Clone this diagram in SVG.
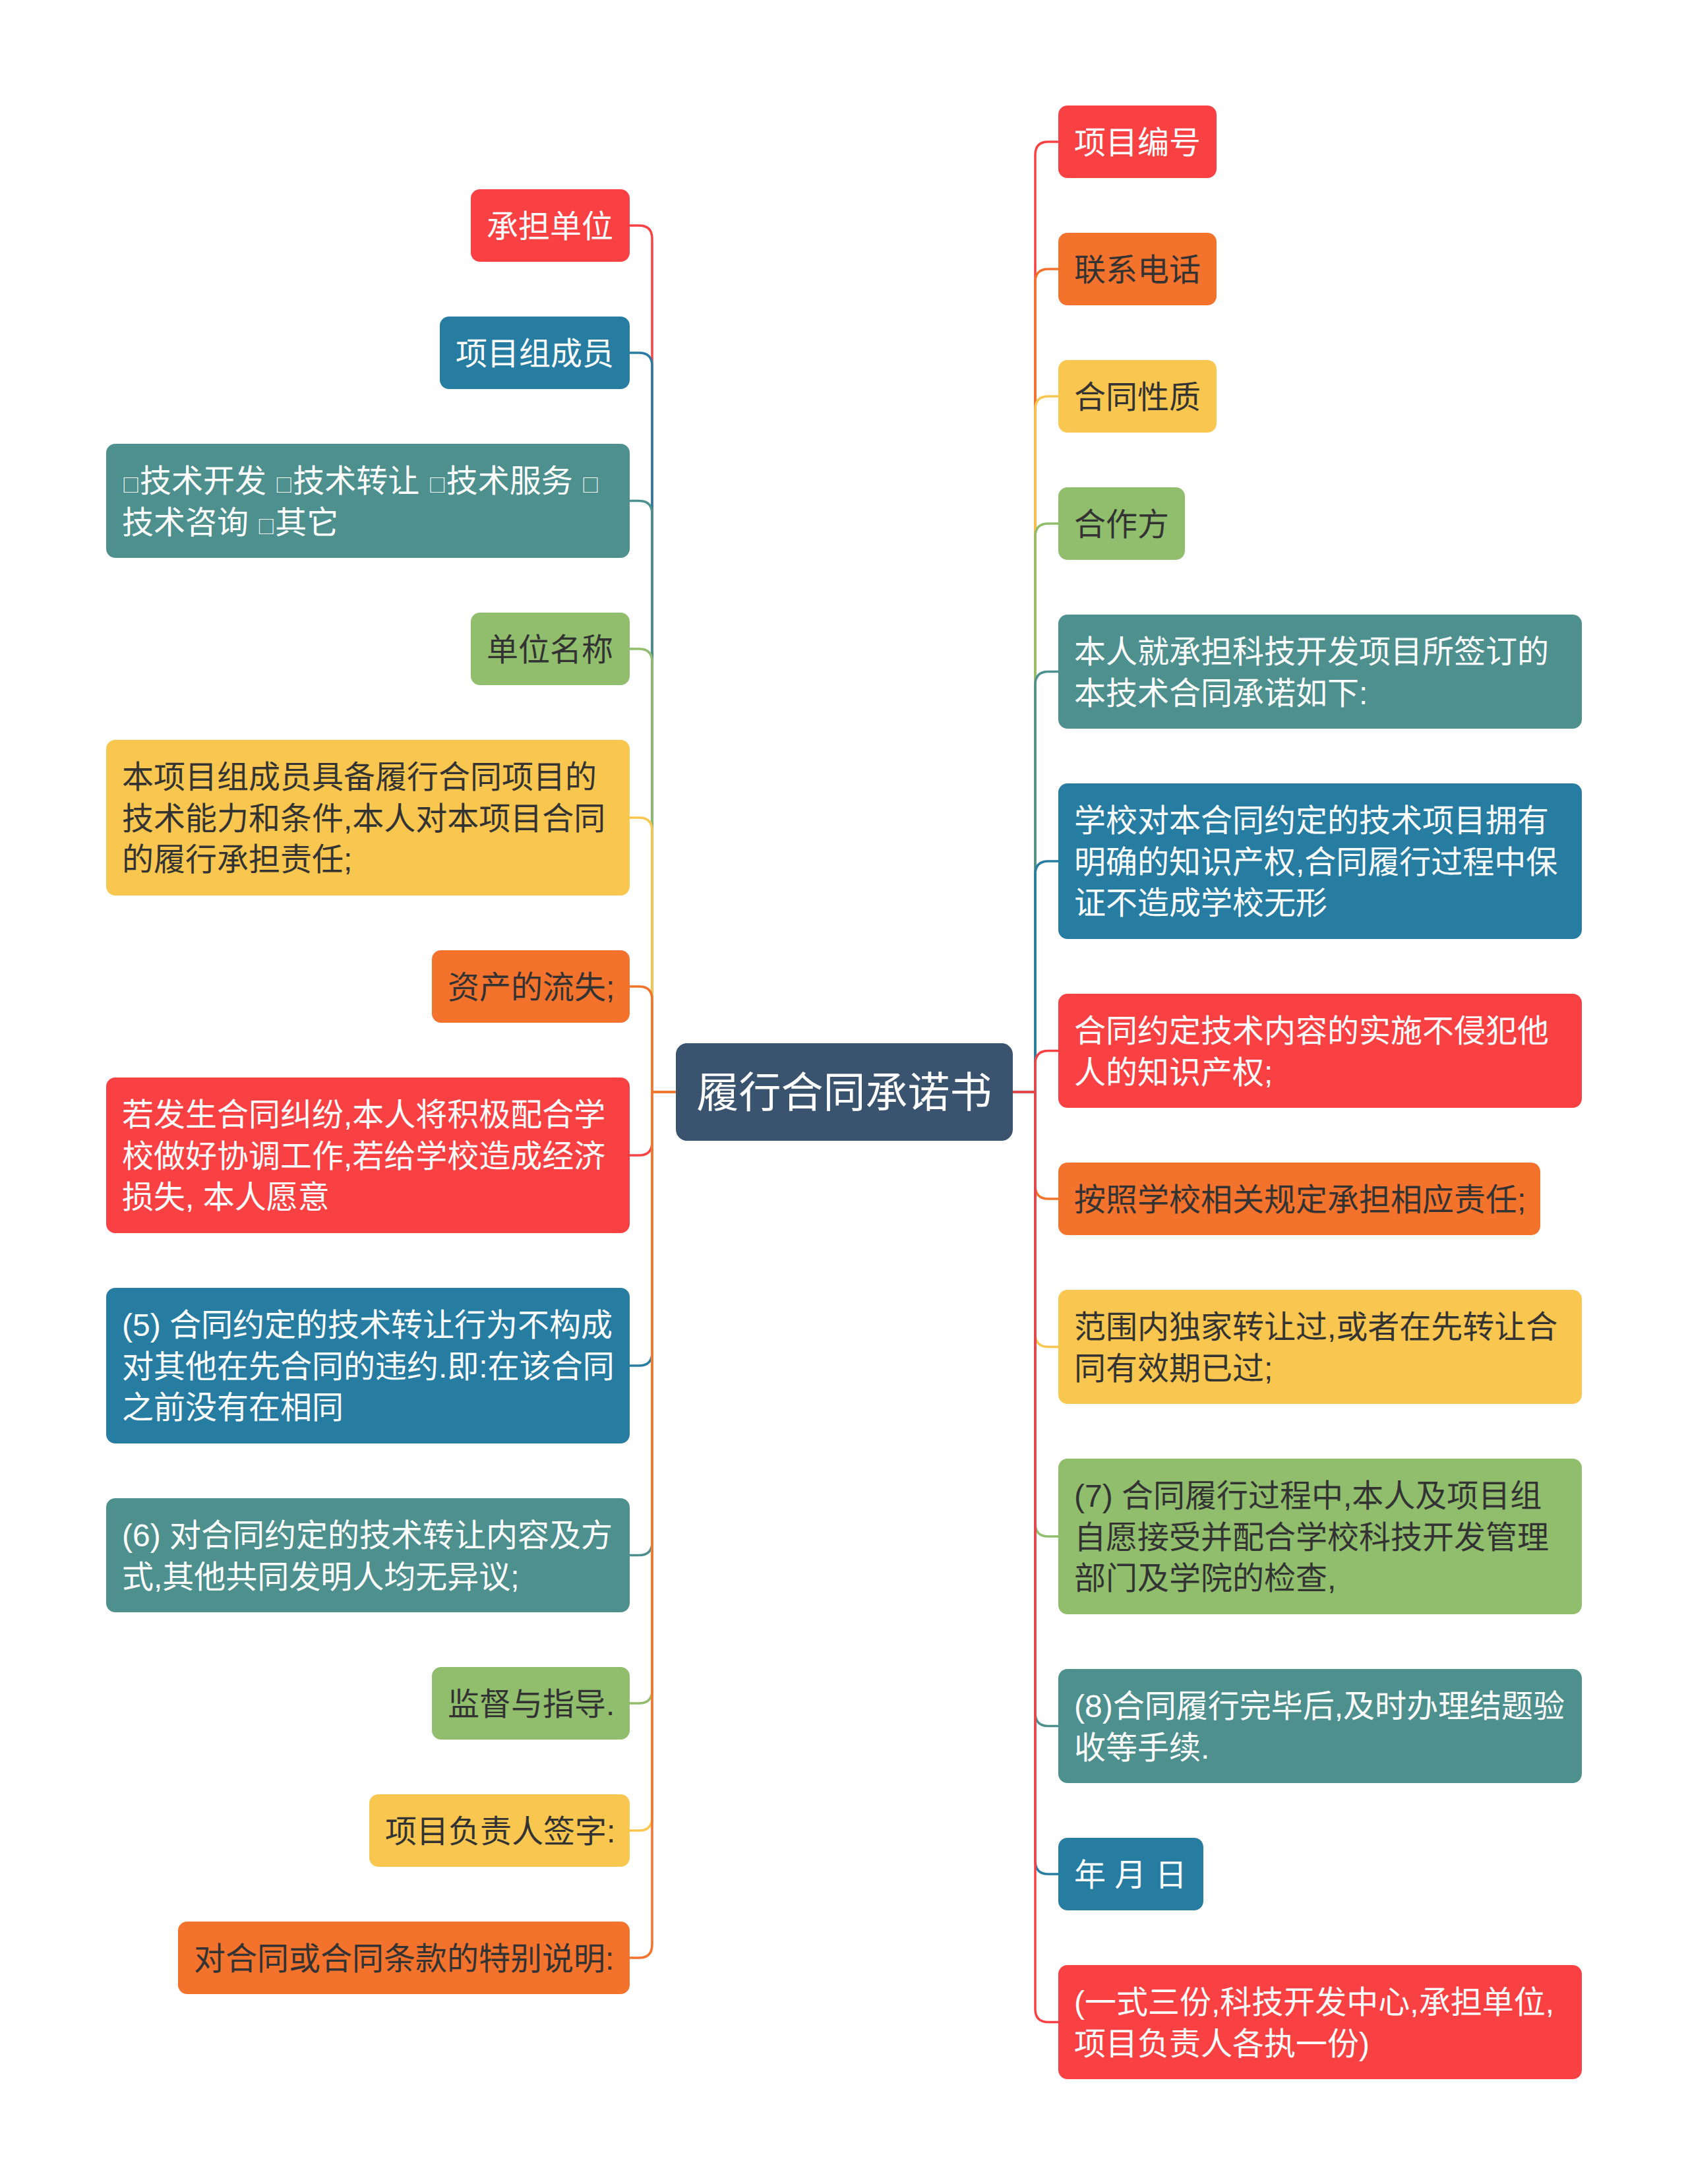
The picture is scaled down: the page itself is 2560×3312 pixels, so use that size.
<svg xmlns="http://www.w3.org/2000/svg" width="2560" height="3312" viewBox="0 0 2560 3312">
<style>
.n text{font-family:"Liberation Sans","Noto Sans CJK SC",sans-serif;font-size:48px}
.sq{font-family:"Noto Sans CJK SC",sans-serif;font-size:27px}
.w{fill:#ffffff}
.d{fill:#333333}
.red{fill:#F94144}
.org{fill:#F3722C}
.yel{fill:#F9C74F}
.grn{fill:#90BE6D}
.tea{fill:#4D908E}
.blu{fill:#277DA1}
#links path{fill:none;stroke-width:3.5;stroke-linecap:round}
.sred{stroke:#F94144}.sorg{stroke:#F3722C}.syel{stroke:#F9C74F}.sgrn{stroke:#90BE6D}.stea{stroke:#4D908E}.sblu{stroke:#277DA1}
</style>
<rect width="2560" height="3312" fill="#ffffff"/>
<g id="links">
<path class="sred" d="M1025,1656 H989 V362 Q989,342 969,342 H955"/>
<path class="sblu" d="M1025,1656 H989 V555 Q989,535 969,535 H955"/>
<path class="stea" d="M1025,1656 H989 V779.5 Q989,759.5 969,759.5 H955"/>
<path class="sgrn" d="M1025,1656 H989 V1004 Q989,984 969,984 H955"/>
<path class="syel" d="M1025,1656 H989 V1260 Q989,1240 969,1240 H955"/>
<path class="sorg" d="M1025,1656 H989 V1516 Q989,1496 969,1496 H955"/>
<path class="sred" d="M1025,1656 H989 V1732 Q989,1752 969,1752 H955"/>
<path class="sblu" d="M1025,1656 H989 V2051 Q989,2071 969,2071 H955"/>
<path class="stea" d="M1025,1656 H989 V2338.5 Q989,2358.5 969,2358.5 H955"/>
<path class="sgrn" d="M1025,1656 H989 V2563 Q989,2583 969,2583 H955"/>
<path class="syel" d="M1025,1656 H989 V2756 Q989,2776 969,2776 H955"/>
<path class="sorg" d="M1025,1656 H989 V2949 Q989,2969 969,2969 H955"/>
<path class="sred" d="M1536,1656 H1570 V235 Q1570,215 1590,215 H1605"/>
<path class="sorg" d="M1536,1656 H1570 V428 Q1570,408 1590,408 H1605"/>
<path class="syel" d="M1536,1656 H1570 V621 Q1570,601 1590,601 H1605"/>
<path class="sgrn" d="M1536,1656 H1570 V814 Q1570,794 1590,794 H1605"/>
<path class="stea" d="M1536,1656 H1570 V1038.5 Q1570,1018.5 1590,1018.5 H1605"/>
<path class="sblu" d="M1536,1656 H1570 V1326 Q1570,1306 1590,1306 H1605"/>
<path class="sred" d="M1536,1656 H1570 V1613.5 Q1570,1593.5 1590,1593.5 H1605"/>
<path class="sorg" d="M1536,1656 H1570 V1798 Q1570,1818 1590,1818 H1605"/>
<path class="syel" d="M1536,1656 H1570 V2022.5 Q1570,2042.5 1590,2042.5 H1605"/>
<path class="sgrn" d="M1536,1656 H1570 V2310 Q1570,2330 1590,2330 H1605"/>
<path class="stea" d="M1536,1656 H1570 V2597.5 Q1570,2617.5 1590,2617.5 H1605"/>
<path class="sblu" d="M1536,1656 H1570 V2822 Q1570,2842 1590,2842 H1605"/>
<path class="sred" d="M1536,1656 H1570 V3046.5 Q1570,3066.5 1590,3066.5 H1605"/>
</g>
<g id="root" class="n">
<rect x="1025" y="1582" width="511" height="148" rx="17" fill="#3A5470"/>
<text x="1280.5" y="1679" text-anchor="middle" class="w" style="font-size:64px">履行合同承诺书</text>
</g>
<g id="L1" class="n"><rect class="red" x="714" y="287" width="241" height="110" rx="14"/><text class="w" x="738" y="360">承担单位</text></g>
<g id="L2" class="n"><rect class="blu" x="667" y="480" width="288" height="110" rx="14"/><text class="w" x="691" y="553">项目组成员</text></g>
<g id="L3" class="n"><rect class="tea" x="161" y="673" width="794" height="173" rx="14"/><text class="w" x="185" y="746"><tspan class="sq">□</tspan>技术开发 <tspan class="sq">□</tspan>技术转让 <tspan class="sq">□</tspan>技术服务 <tspan class="sq">□</tspan><tspan x="185" dy="62.5">技术咨询 </tspan><tspan class="sq">□</tspan>其它</text></g>
<g id="L4" class="n"><rect class="grn" x="714" y="929" width="241" height="110" rx="14"/><text class="d" x="738" y="1002">单位名称</text></g>
<g id="L5" class="n"><rect class="yel" x="161" y="1122" width="794" height="236" rx="14"/><text class="d" x="185" y="1195">本项目组成员具备履行合同项目的<tspan x="185" dy="62.5">技术能力和条件,本人对本项目合同</tspan><tspan x="185" dy="62.5">的履行承担责任;</tspan></text></g>
<g id="L6" class="n"><rect class="org" x="655" y="1441" width="300" height="110" rx="14"/><text class="d" x="679" y="1514">资产的流失;</text></g>
<g id="L7" class="n"><rect class="red" x="161" y="1634" width="794" height="236" rx="14"/><text class="w" x="185" y="1707">若发生合同纠纷,本人将积极配合学<tspan x="185" dy="62.5">校做好协调工作,若给学校造成经济</tspan><tspan x="185" dy="62.5">损失, 本人愿意</tspan></text></g>
<g id="L8" class="n"><rect class="blu" x="161" y="1953" width="794" height="236" rx="14"/><text class="w" x="185" y="2026">(5) 合同约定的技术转让行为不构成<tspan x="185" dy="62.5">对其他在先合同的违约.即:在该合同</tspan><tspan x="185" dy="62.5">之前没有在相同</tspan></text></g>
<g id="L9" class="n"><rect class="tea" x="161" y="2272" width="794" height="173" rx="14"/><text class="w" x="185" y="2345">(6) 对合同约定的技术转让内容及方<tspan x="185" dy="62.5">式,其他共同发明人均无异议;</tspan></text></g>
<g id="L10" class="n"><rect class="grn" x="655" y="2528" width="300" height="110" rx="14"/><text class="d" x="679" y="2601">监督与指导.</text></g>
<g id="L11" class="n"><rect class="yel" x="560" y="2721" width="395" height="110" rx="14"/><text class="d" x="584" y="2794">项目负责人签字:</text></g>
<g id="L12" class="n"><rect class="org" x="270" y="2914" width="685" height="110" rx="14"/><text class="d" x="294" y="2987">对合同或合同条款的特别说明:</text></g>
<g id="R1" class="n"><rect class="red" x="1605" y="160" width="240" height="110" rx="14"/><text class="w" x="1629" y="233">项目编号</text></g>
<g id="R2" class="n"><rect class="org" x="1605" y="353" width="240" height="110" rx="14"/><text class="d" x="1629" y="426">联系电话</text></g>
<g id="R3" class="n"><rect class="yel" x="1605" y="546" width="240" height="110" rx="14"/><text class="d" x="1629" y="619">合同性质</text></g>
<g id="R4" class="n"><rect class="grn" x="1605" y="739" width="192" height="110" rx="14"/><text class="d" x="1629" y="812">合作方</text></g>
<g id="R5" class="n"><rect class="tea" x="1605" y="932" width="794" height="173" rx="14"/><text class="w" x="1629" y="1005">本人就承担科技开发项目所签订的<tspan x="1629" dy="62.5">本技术合同承诺如下:</tspan></text></g>
<g id="R6" class="n"><rect class="blu" x="1605" y="1188" width="794" height="236" rx="14"/><text class="w" x="1629" y="1261">学校对本合同约定的技术项目拥有<tspan x="1629" dy="62.5">明确的知识产权,合同履行过程中保</tspan><tspan x="1629" dy="62.5">证不造成学校无形</tspan></text></g>
<g id="R7" class="n"><rect class="red" x="1605" y="1507" width="794" height="173" rx="14"/><text class="w" x="1629" y="1580">合同约定技术内容的实施不侵犯他<tspan x="1629" dy="62.5">人的知识产权;</tspan></text></g>
<g id="R8" class="n"><rect class="org" x="1605" y="1763" width="731" height="110" rx="14"/><text class="d" x="1629" y="1836">按照学校相关规定承担相应责任;</text></g>
<g id="R9" class="n"><rect class="yel" x="1605" y="1956" width="794" height="173" rx="14"/><text class="d" x="1629" y="2029">范围内独家转让过,或者在先转让合<tspan x="1629" dy="62.5">同有效期已过;</tspan></text></g>
<g id="R10" class="n"><rect class="grn" x="1605" y="2212" width="794" height="236" rx="14"/><text class="d" x="1629" y="2285">(7) 合同履行过程中,本人及项目组<tspan x="1629" dy="62.5">自愿接受并配合学校科技开发管理</tspan><tspan x="1629" dy="62.5">部门及学院的检查,</tspan></text></g>
<g id="R11" class="n"><rect class="tea" x="1605" y="2531" width="794" height="173" rx="14"/><text class="w" x="1629" y="2604">(8)合同履行完毕后,及时办理结题验<tspan x="1629" dy="62.5">收等手续.</tspan></text></g>
<g id="R12" class="n"><rect class="blu" x="1605" y="2787" width="220" height="110" rx="14"/><text class="w" x="1629" y="2860">年 月 日</text></g>
<g id="R13" class="n"><rect class="red" x="1605" y="2980" width="794" height="173" rx="14"/><text class="w" x="1629" y="3053">(一式三份,科技开发中心,承担单位,<tspan x="1629" dy="62.5">项目负责人各执一份)</tspan></text></g>
</svg>
